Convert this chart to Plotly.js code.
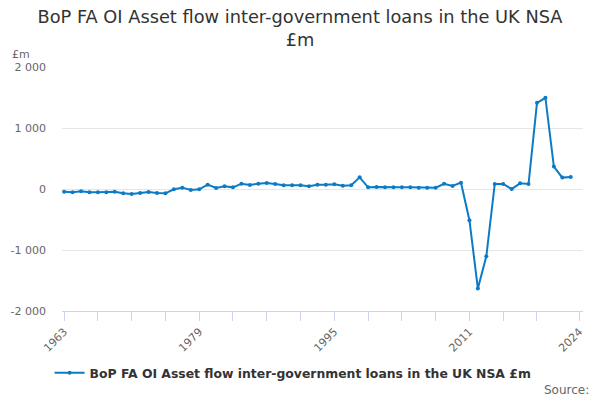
<!DOCTYPE html>
<html>
<head>
<meta charset="utf-8">
<script src="https://cdn.plot.ly/plotly-3.0.1.min.js"></script>
<style>html,body{margin:0;padding:0;background:#fff;}#chart{width:600px;height:400px;}</style>
</head>
<body>
<div id="chart"></div>
<script>
var years = [];
for (var y = 1963; y <= 2023; y++) years.push(y);
var values = [
  -44, -55, -38, -55, -55, -55, -44, -71, -82, -66,
  -49, -66, -71, -5, 22, -16, -5, 71, 16, 44,
  27, 87, 66, 87, 98, 82, 60, 60, 60, 44,
  71, 71, 76, 55, 60, 191, 27, 33, 27, 27,
  27, 27, 22, 22, 22, 85, 49, 104, -511, -1632,
  -1104, 82, 82, 0, 93, 82, 1412, 1495, 368, 187,
  198
];
var tickYears = [1963, 1967, 1971, 1975, 1979, 1983, 1987, 1991, 1995, 1999, 2003, 2007, 2011, 2015, 2019, 2024];
var labelYears = [1963, 1979, 1995, 2011, 2024];
var tickLabels = tickYears.map(function(v){ return labelYears.indexOf(v) >= 0 ? String(v) : ''; });
var yTickVals = [-2000, -1000, 0, 1000, 2000];
var yTickText = ['-2 000', '-1 000', '0', '1 000', '2 000'];
var seriesName = 'BoP FA OI Asset flow inter-government loans in the UK NSA £m';
var chartTitle = 'BoP FA OI Asset flow inter-government loans in the UK NSA<br>£m';

var trace = {
  x: years, y: values, name: seriesName, type: 'scatter', mode: 'lines+markers',
  line: {color: '#0c7bc6', width: 2},
  marker: {color: '#0c7bc6', size: 4}
};
var layout = {
  width: 600, height: 400,
  font: {family: 'DejaVu Sans, sans-serif', color: '#666'},
  paper_bgcolor: '#fff', plot_bgcolor: '#fff',
  margin: {l: 62, r: 17, t: 67, b: 89},
  title: {text: chartTitle, x: 0.5, xanchor: 'center', y: 0.943, yanchor: 'top',
          font: {size: 17.8, color: '#333'}},
  xaxis: {
    range: [1962.75, 2024.45], tickmode: 'array', tickvals: tickYears, ticktext: tickLabels,
    tickangle: -45, ticks: 'outside', ticklen: 9, tickcolor: '#ccd6eb', tickwidth: 1,
    showline: true, linecolor: '#ccd6eb', showgrid: false, zeroline: false,
    tickfont: {size: 11, color: '#666'}
  },
  yaxis: {
    range: [-2000, 2000], tickmode: 'array', tickvals: yTickVals, ticktext: yTickText,
    gridcolor: '#e6e6e6', zeroline: false, showline: false, ticks: '',
    ticklabelstandoff: 15, tickfont: {size: 11, color: '#666'}
  },
  showlegend: true,
  legend: {orientation: 'h', x: 0.4436, xanchor: 'center', y: -0.255, yanchor: 'middle',
           font: {size: 12.4, color: '#333', weight: 'bold'}},
  annotations: [
    {text: '£m', xref: 'paper', yref: 'paper', x: -0.1, y: 1.053, xanchor: 'left', yanchor: 'middle',
     showarrow: false, font: {size: 11, color: '#666'}},
    {text: 'Source:', xref: 'paper', yref: 'paper', x: 1.015, y: -0.322, xanchor: 'right', yanchor: 'middle',
     showarrow: false, font: {size: 12, color: '#666'}}
  ]
};
Plotly.newPlot('chart', [trace], layout, {displayModeBar: false, staticPlot: true});
</script>
</body>
</html>
